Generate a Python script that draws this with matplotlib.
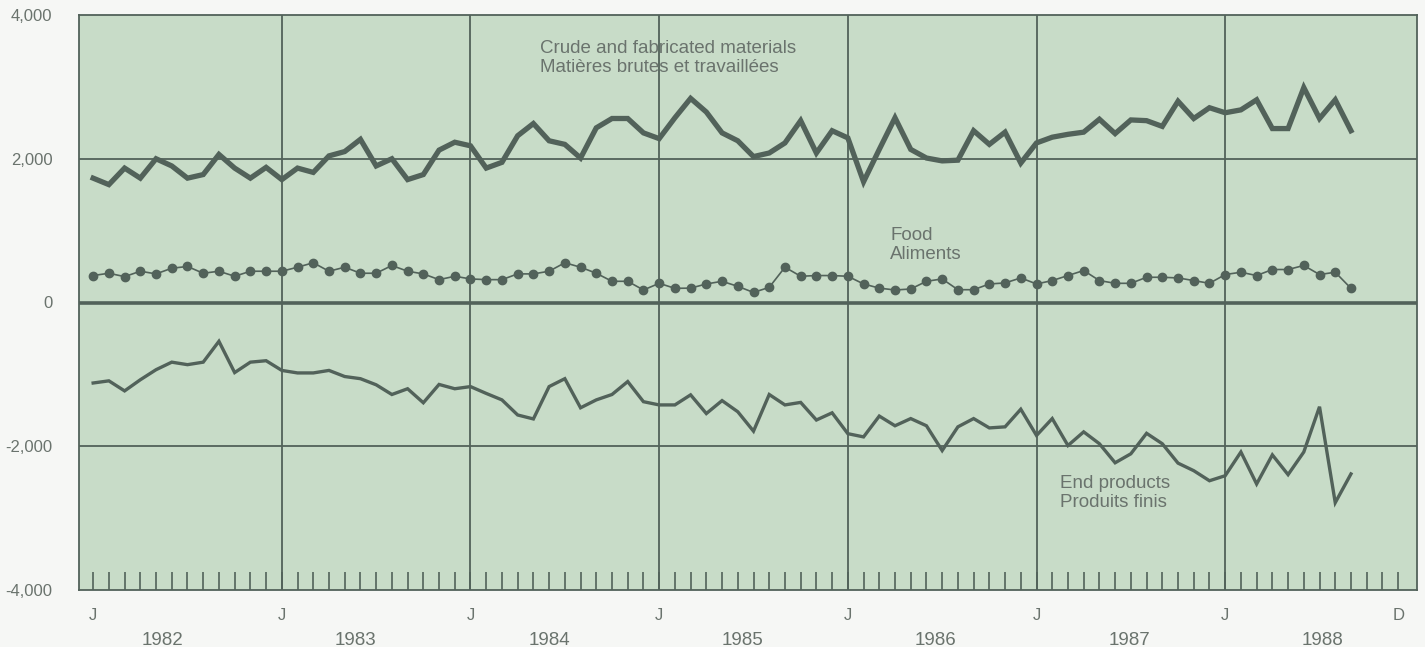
import numpy as np
import matplotlib.pyplot as plt

# === DATOS (millones de $, mensual, ene 1982 - sep 1988) ===
crude = [1730, 1640, 1870, 1730, 2000, 1900, 1730, 1780, 2060, 1870,
         1730, 1880, 1710, 1870, 1810, 2040, 2100, 2270, 1900, 2000,
         1710, 1780, 2120, 2230, 2180, 1870, 1950, 2320, 2490, 2250,
         2200, 2010, 2430, 2560, 2560, 2360, 2280, 2570, 2840, 2650,
         2360, 2250, 2030, 2080, 2220, 2530, 2080, 2390, 2290, 1680,
         2130, 2570, 2130, 2010, 1970, 1980, 2390, 2200, 2370, 1940,
         2220, 2300, 2340, 2370, 2550, 2350, 2540, 2530, 2450, 2800,
         2560, 2710, 2640, 2680, 2820, 2420, 2420, 2990, 2560, 2820, 2390]

food = [375, 407, 360, 435, 398, 477, 501, 407, 435, 365,
        435, 435, 435, 491, 553, 435, 491, 407, 407, 515,
        435, 398, 318, 365, 328, 318, 318, 398, 398, 435,
        553, 491, 407, 295, 295, 174, 267, 197, 200, 258,
        295, 225, 140, 211, 491, 365, 375, 375, 365, 258,
        200, 174, 188, 295, 328, 178, 178, 258, 272, 342,
        258, 305, 375, 445, 305, 267, 267, 351, 351, 342,
        305, 267, 389, 421, 375, 459, 459, 515, 389, 421, 197]

end_products = [-1120, -1090, -1230, -1075, -935, -830, -865, -830, -540, -975,
                -830, -810, -945, -980, -980, -945, -1030, -1060, -1145, -1280,
                -1200, -1395, -1140, -1200, -1170, -1265, -1355, -1565, -1620, -1170,
                -1060, -1465, -1355, -1280, -1100, -1380, -1425, -1425, -1285, -1545,
                -1365, -1520, -1790, -1280, -1425, -1390, -1635, -1535, -1825, -1870,
                -1580, -1715, -1615, -1715, -2060, -1730, -1615, -1745, -1730, -1485,
                -1850, -1615, -1990, -1800, -1965, -2230, -2105, -1820, -1965, -2235,
                -2340, -2480, -2410, -2080, -2525, -2120, -2395, -2080, -1450, -2785, -2385]

years = ["1982", "1983", "1984", "1985", "1986", "1987", "1988"]
y_ticks = [-4000, -2000, 0, 2000, 4000]
y_labels = ["-4,000", "-2,000", "0", "2,000", "4,000"]

# === ESTILO ===
BG = "#f6f7f5"
PANEL = "#c8dcc8"
LINE = "#52625a"
TXT = "#6a736d"
plt.rcParams["font.family"] = ["Liberation Sans", "DejaVu Sans"]

meses = np.arange(len(crude))

fig = plt.figure(figsize=(14.25, 6.47), dpi=100, facecolor=BG)
ax = fig.add_axes([79 / 1425, 1 - 590 / 647, (1417 - 79) / 1425, (590 - 15) / 647])
ax.set_facecolor(PANEL)
ax.set_xlim(-0.9, 84.2)
ax.set_ylim(-4000, 4000)

# lineas de referencia
for v in (2000, -2000):
    ax.axhline(v, color=LINE, lw=1.3, zorder=1)
ax.axhline(0, color=LINE, lw=2.6, zorder=1)
for k in range(1, 7):
    ax.axvline(12 * k, color=LINE, lw=1.3, zorder=1)

# series
ax.plot(meses, crude, color=LINE, lw=3.8, solid_joinstyle="miter", zorder=3)
ax.plot(meses, food, color=LINE, lw=1.2, marker="o", ms=6, zorder=3)
ax.plot(meses, end_products, color=LINE, lw=2.4, solid_joinstyle="miter", zorder=3)

# textos de series
ax.text(28.4, 3400, "Crude and fabricated materials\nMatières brutes et travaillées",
        color=TXT, fontsize=13.5, va="center", ha="left", linespacing=1.2)
ax.text(50.7, 800, "Food\nAliments", color=TXT, fontsize=13.5,
        va="center", ha="left", linespacing=1.2)
ax.text(61.5, -2650, "End products\nProduits finis", color=TXT, fontsize=13.5,
        va="center", ha="left", linespacing=1.2)

# eje x: marcas mensuales hacia dentro
ax.set_xticks(np.arange(0, 84), minor=True)
ax.tick_params(axis="x", which="minor", direction="in", length=13, width=1.2, color=LINE)
ax.set_xticks([])
trans = ax.get_xaxis_transform()
for k in range(7):
    ax.text(12 * k, -0.045, "J", transform=trans, ha="center", va="center",
            color=TXT, fontsize=12)
    ax.text(4.4 + 12.3 * k, -0.087, years[k], transform=trans, ha="center",
            va="center", color=TXT, fontsize=13.5)
ax.text(83, -0.045, "D", transform=trans, ha="center", va="center", color=TXT, fontsize=12)

# eje y
ax.set_yticks(y_ticks)
ax.set_yticklabels(y_labels)
ax.tick_params(axis="y", length=0, pad=19, labelsize=12, labelcolor=TXT)

for s in ax.spines.values():
    s.set_color(LINE)
    s.set_linewidth(1.3)

fig.savefig("out.png", dpi=100, facecolor=BG)
